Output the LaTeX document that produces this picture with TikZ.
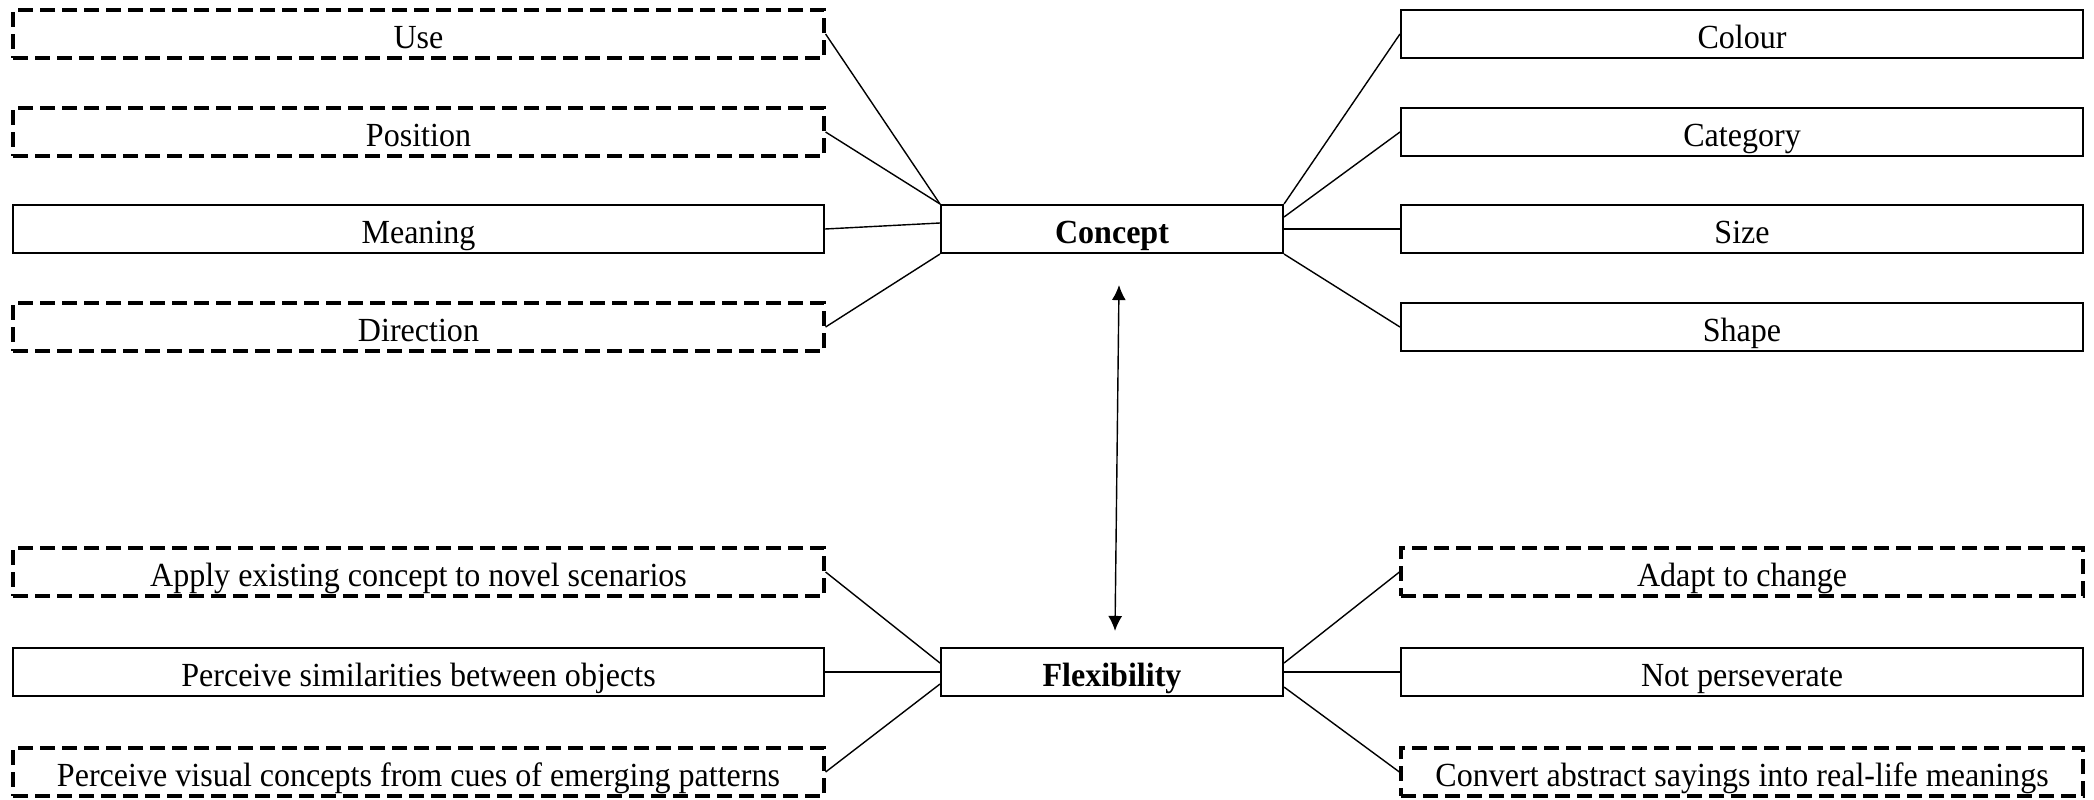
\documentclass[tikz,border=0pt]{standalone}
\usepackage{fontspec}
\setmainfont[FakeStretch=0.95]{Liberation Serif}
\usetikzlibrary{arrows.meta}
\begin{document}
\begin{tikzpicture}[main/.style = {draw, rectangle, line width=0.6pt, minimum height=0.48cm, inner sep=0pt, text height=0.30cm, text depth=0.02cm, font=\fontsize{9.6}{11}\selectfont},
    dashbox/.style = {main, line width=0.9pt, dash pattern=on 0.15cm off 0.07cm},
    wide/.style = {minimum width=8.11cm},
    side/.style = {minimum width=6.82cm},
    mid/.style = {minimum width=3.42cm, font=\fontsize{9.6}{11}\selectfont\bfseries},
    link/.style = {line width=0.4pt}]
    \useasboundingbox (0,0) rectangle (20.94,-7.99);
    \node[dashbox,wide] (use) at (4.185,-0.34) {Use};
    \node[dashbox,wide] (position) at (4.185,-1.32) {Position};
    \node[main,wide] (meaning) at (4.185,-2.29) {Meaning};
    \node[dashbox,wide] (direction) at (4.185,-3.27) {Direction};
    \node[main,mid] (concept) at (11.12,-2.29) {Concept};
    \node[main,side] (colour) at (17.42,-0.34) {Colour};
    \node[main,side] (category) at (17.42,-1.32) {Category};
    \node[main,side] (size) at (17.42,-2.29) {Size};
    \node[main,side] (shape) at (17.42,-3.27) {Shape};
    \node[dashbox,wide] (apply) at (4.185,-5.72) {Apply existing concept to novel scenarios};
    \node[main,wide] (similar) at (4.185,-6.72) {Perceive similarities between objects};
    \node[dashbox,wide] (visual) at (4.185,-7.72) {Perceive visual concepts from cues of emerging patterns};
    \node[main,mid] (flex) at (11.12,-6.72) {Flexibility};
    \node[dashbox,side] (adapt) at (17.42,-5.72) {Adapt to change};
    \node[main,side] (persev) at (17.42,-6.72) {Not perseverate};
    \node[dashbox,side] (convert) at (17.42,-7.72) {Convert abstract sayings into real-life meanings};
    \draw[link] (use.east) -- (concept.north west);
    \draw[link] (position.east) -- (concept.north west);
    \draw[link] (meaning.east) -- (concept.178);
    \draw[link] (direction.east) -- (concept.south west);
    \draw[link] (colour.west) -- (concept.north east);
    \draw[link] (category.west) -- (concept.4);
    \draw[link] (size.west) -- (concept.east);
    \draw[link] (shape.west) -- (concept.south east);
    \draw[link] (apply.east) -- (flex.177);
    \draw[link] (similar.east) -- (flex.west);
    \draw[link] (visual.east) -- (flex.184);
    \draw[link] (adapt.west) -- (flex.3);
    \draw[link] (persev.west) -- (flex.east);
    \draw[link] (convert.west) -- (flex.355);
    \draw[link, {Latex[length=0.15cm,width=0.14cm]}-{Latex[length=0.15cm,width=0.14cm]}] ([xshift=0.07cm,yshift=-0.31cm]concept.south) -- ([xshift=0.03cm,yshift=0.16cm]flex.north);
    %\draw[link] (concept) -- (flex);
\end{tikzpicture}
\end{document}
